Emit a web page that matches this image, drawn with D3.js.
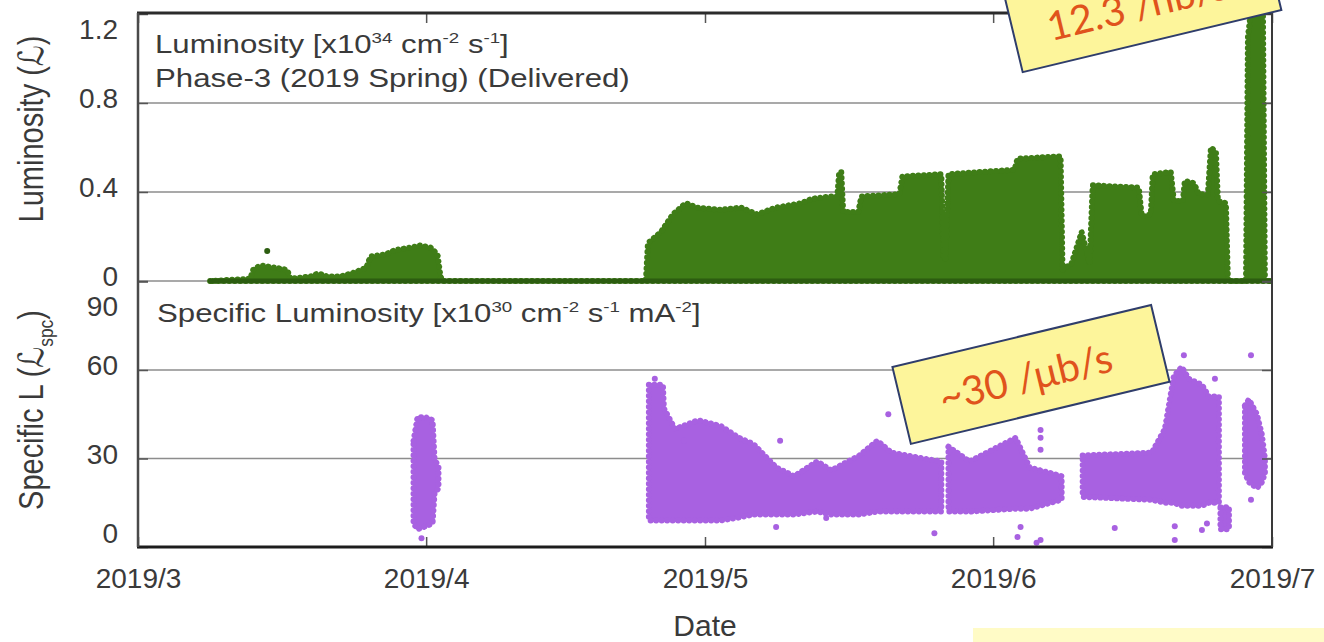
<!DOCTYPE html>
<html>
<head>
<meta charset="utf-8">
<script src="https://cdn.jsdelivr.net/npm/d3@7"></script>
<style>
  html, body { margin: 0; padding: 0; background: #fff; }
  svg { display: block; font-family: "Liberation Sans", Arial, sans-serif; }
</style>
</head>
<body>
<svg id="chart" width="1324" height="642"></svg>
<script>
// ---- data ---------------------------------------------------------------
// Time is given in fractional days counted from 2019-03-01 00:00.

// Delivered luminosity, upper envelope of the logged points [x10^34 cm^-2 s^-1]
const lumDay = [7.76, 12.07, 12.39, 13.15, 14.76, 16.06, 16.38, 18.54, 19.40, 20.37, 21.77, 23.39, 24.57, 25.00, 26.62, 27.70, 29.31, 30.39, 31.47, 32.22, 32.55, 32.76,
  54.64, 54.86, 56.26, 57.55, 58.95, 60.14, 62.72, 64.88, 66.60, 68.65, 71.35, 72.53, 74.58, 75.23, 75.44, 75.66, 75.87, 77.49, 77.81, 81.91,
  82.23, 86.43, 86.65, 86.87, 87.19, 90.74, 94.30, 94.62, 99.26, 99.47, 100.44, 101.52, 102.38, 102.71, 107.67, 107.99, 108.96, 109.17,
  111.11, 111.44, 112.41, 112.62, 113.59, 114.13, 115.10, 115.43, 115.97, 116.18, 117.04, 117.26, 119.20, 119.41, 119.84, 120.49, 121.03, 121.24, 122];
const lumVal = [0, 0.01, 0.05, 0.07, 0.06, 0.05, 0.01, 0.02, 0.035, 0.02, 0.02, 0.04, 0.06, 0.11, 0.12, 0.14, 0.15, 0.16, 0.15, 0.12, 0.02, 0,
  0, 0.17, 0.22, 0.30, 0.35, 0.33, 0.32, 0.33, 0.30, 0.33, 0.35, 0.37, 0.38, 0.38, 0.49, 0.49, 0.31, 0.31, 0.38, 0.39,
  0.47, 0.48, 0.10, 0.10, 0.48, 0.49, 0.50, 0.55, 0.56, 0.05, 0.08, 0.22, 0.08, 0.43, 0.42, 0.29, 0.30, 0.48,
  0.49, 0.36, 0.36, 0.45, 0.44, 0.39, 0.39, 0.60, 0.58, 0.36, 0.35, 0, 0, 1.10, 1.25, 1.27, 1.20, 0, 0];
// isolated luminosity points
const lumDotDay = [13.90];
const lumDotVal = [0.135];

// Specific luminosity band: lower / upper extent of the points [x10^30 cm^-2 s^-1 mA^-2]
// null separates runs
const spcDay = [29.64, 30.07, 30.93, 31.69, 31.90, 32.33, null,
  54.96, 56.47, 56.58, 57.77, 60.25, 62.72, 64.66, 66.17, 68.65, 70.59, 73.07, 74.58, 77.60, 79.54, 81.05, 84.49, 86.43, null,
  87.19, 89.45, 94.41, 95.92, 99.37, null,
  101.63, 109.07, 110.47, 111.44, 112.30, 113.05, 114.46, 115.21, 116.29, null,
  116.45, 117.37, null,
  119.09, 119.52, 120.38, 120.92, 121.24];
const spcLo = [8, 6, 7, 8, 18, 20, null,
  9, 9, 9, 9, 9, 9, 10, 11, 11, 11, 12, 11, 11, 12, 12, 12, 12, null,
  12, 12, 13, 13, 16, null,
  17, 16, 15, 15, 14, 14, 14, 15, 15, null,
  6, 6, null,
  25, 22, 20, 22, 25];
const spcHi = [36, 44, 44, 43, 30, 27, null,
  55, 55, 47, 40, 43, 41, 37, 35, 27, 24, 29, 26, 31, 36, 32, 30, 29, null,
  34, 29, 37, 27, 24, null,
  31, 32, 40, 58, 61, 57, 55, 51, 51, null,
  13.5, 13.5, null,
  48, 50, 45, 38, 30];
// isolated specific-luminosity points
const spcDotDay = [30.50, 58.74, 69.08, 80.72, 68.65, 74.04, 85.68, 94.95, 94.62, 97.10, 97.10, 97.10, 97.10, 96.67, 105.08, 111.54, 111.54, 114.46, 115.00, 115.86, 112.52, 119.74, 119.74, 55.60];
const spcDotVal = [3, 36, 36, 45, 6.8, 9.8, 4.7, 6.8, 3.4, 39.7, 37, 33, 2.4, 1.4, 6.4, 2.4, 7, 5.8, 8, 57, 65, 65, 16, 57];

// axes
const monthTicks = [[2019, 2], [2019, 3], [2019, 4], [2019, 5], [2019, 6]];
const monthLabels = ["2019/3", "2019/4", "2019/5", "2019/6", "2019/7"];
const lumTicks = [0, 0.4, 0.8, 1.2];
const lumTickLabels = ["0", "0.4", "0.8", "1.2"];
const spcTicks = [0, 30, 60, 90];
const spcTickLabels = ["0", "30", "60", "90"];

// rate annotations: [day, value, text]
const lumNote = [108.1, 1.251, "12.3 /nb/s"];
const spcNote = [96.07, 58.5, "~30 /\u03BCb/s"];

// ---- layout -------------------------------------------------------------
const P = { left: 138, right: 1272, top: 13, mid: 281, bottom: 547 };
const textColor = "#3a3a3a";
const green = "#3f7d17", greenDark = "#2c5d10", purple = "#a861e1";

const svg = d3.select("#chart");
const t0 = new Date(2019, 2, 1);
const toDate = d => new Date(t0.getTime() + d * 864e5);
const monthDates = monthTicks.map(([y, m]) => new Date(y, m, 1));

const x = d3.scaleTime().domain([monthDates[0], monthDates[monthDates.length - 1]]).range([P.left, P.right]);
const yL = d3.scaleLinear().domain([0, 1.2]).range([P.mid, P.top + 1]);
const yS = d3.scaleLinear().domain([0, 90]).range([P.bottom, P.mid + 0.5]);

const defs = svg.append("defs");
defs.append("clipPath").attr("id", "clipTop").append("rect")
  .attr("x", P.left).attr("y", P.top).attr("width", P.right - P.left).attr("height", P.mid - P.top + 3);
defs.append("clipPath").attr("id", "clipBottom").append("rect")
  .attr("x", P.left).attr("y", P.mid + 3).attr("width", P.right - P.left).attr("height", P.bottom - P.mid - 3);

// ---- grid ---------------------------------------------------------------
const grid = svg.append("g").attr("stroke", "#8d8d8d").attr("stroke-width", 1.6);
grid.selectAll("line.gl").data(lumTicks.filter(v => v > 0 && v < 1.2)).join("line")
  .attr("x1", P.left).attr("x2", P.right).attr("y1", d => yL(d)).attr("y2", d => yL(d));
grid.selectAll("line.gs").data(spcTicks.filter(v => v > 0 && v < 90)).join("line")
  .attr("x1", P.left).attr("x2", P.right).attr("y1", d => yS(d)).attr("y2", d => yS(d));
grid.append("line").attr("x1", P.left).attr("x2", P.right).attr("y1", P.mid).attr("y2", P.mid);

// dense point clouds: filled envelope plus a chain of dots along its edge
function cloud(g, data, gen, color, dot) {
  g.append("path").datum(data).attr("fill", color).attr("stroke", "none").attr("d", gen);
  g.append("path").datum(data).attr("fill", "none").attr("stroke", color)
    .attr("stroke-width", dot).attr("stroke-linecap", "round").attr("stroke-linejoin", "round")
    .attr("stroke-dasharray", `0.1 ${dot * 0.9}`).attr("d", gen);
}

// ---- luminosity ---------------------------------------------------------
const lumData = lumDay.map((d, i) => ({ t: toDate(d), v: lumVal[i] }));
const gTop = svg.append("g").attr("clip-path", "url(#clipTop)");
cloud(gTop, lumData, d3.area().x(d => x(d.t)).y0(yL(0)).y1(d => yL(d.v)), green, 6);
gTop.append("line")
  .attr("x1", x(toDate(d3.min(lumDay)))).attr("x2", x(toDate(d3.max(lumDay))))
  .attr("y1", yL(0)).attr("y2", yL(0))
  .attr("stroke", greenDark).attr("stroke-width", 5).attr("stroke-linecap", "round");
gTop.selectAll("circle").data(lumDotDay.map((d, i) => ({ t: toDate(d), v: lumDotVal[i] }))).join("circle")
  .attr("cx", d => x(d.t)).attr("cy", d => yL(d.v)).attr("r", 3).attr("fill", greenDark);

// ---- specific luminosity ------------------------------------------------
const spcData = spcDay.map((d, i) => ({ t: d == null ? null : toDate(d), lo: spcLo[i], hi: spcHi[i] }));
const gBot = svg.append("g").attr("clip-path", "url(#clipBottom)");
cloud(gBot, spcData,
  d3.area().defined(d => d.t != null).x(d => x(d.t)).y0(d => yS(d.lo)).y1(d => yS(d.hi)),
  purple, 6);
gBot.selectAll("circle").data(spcDotDay.map((d, i) => ({ t: toDate(d), v: spcDotVal[i] }))).join("circle")
  .attr("cx", d => x(d.t)).attr("cy", d => yS(d.v)).attr("r", 3).attr("fill", purple);

// ---- axes ---------------------------------------------------------------
function styleAxis(g) {
  g.select(".domain").remove();
  g.selectAll(".tick line").attr("stroke", "#555").attr("stroke-width", 1.5);
  g.selectAll(".tick text").attr("fill", textColor).attr("font-size", 28)
    .attr("font-family", "'Liberation Sans', Arial, sans-serif");
}
function placeLabels(g, scale, lo, hi) {
  g.selectAll(".tick text").attr("y", v => {
    const c = Math.min(hi, Math.max(lo, scale(v) - 4));
    return c - scale(v);
  });
}

const axL = svg.append("g").attr("transform", `translate(${P.left},0)`)
  .call(d3.axisLeft(yL).tickValues(lumTicks).tickFormat((d, i) => lumTickLabels[i]).tickSize(-10).tickPadding(20));
styleAxis(axL);
placeLabels(axL, yL, P.top + 17, 9999);

const axS = svg.append("g").attr("transform", `translate(${P.left},0)`)
  .call(d3.axisLeft(yS).tickValues(spcTicks).tickFormat((d, i) => spcTickLabels[i]).tickSize(-10).tickPadding(20));
styleAxis(axS);
placeLabels(axS, yS, P.mid + 26, P.bottom - 13);

// right-side inner ticks
const axR = svg.append("g").attr("transform", `translate(${P.right},0)`);
axR.call(d3.axisRight(yL).tickValues(lumTicks).tickFormat("").tickSize(-10));
axR.select(".domain").remove();
const axR2 = svg.append("g").attr("transform", `translate(${P.right},0)`);
axR2.call(d3.axisRight(yS).tickValues(spcTicks).tickFormat("").tickSize(-10));
axR2.select(".domain").remove();
svg.selectAll(".tick line").attr("stroke", "#555").attr("stroke-width", 1.5);

const axB = svg.append("g").attr("transform", `translate(0,${P.bottom})`)
  .call(d3.axisBottom(x).tickValues(monthDates).tickFormat((d, i) => monthLabels[i]).tickSize(-10).tickPadding(21));
styleAxis(axB);
const axT = svg.append("g").attr("transform", `translate(0,${P.top})`)
  .call(d3.axisTop(x).tickValues(monthDates).tickFormat("").tickSize(-10));
axT.select(".domain").remove();
axT.selectAll(".tick line").attr("stroke", "#555").attr("stroke-width", 1.5);

// ---- frame --------------------------------------------------------------
const frame = svg.append("g").attr("fill", "none");
frame.append("line").attr("x1", P.left - 1).attr("x2", P.right + 1).attr("y1", P.top).attr("y2", P.top)
  .attr("stroke", "#2b2b2b").attr("stroke-width", 3);
frame.append("line").attr("x1", P.left - 1).attr("x2", P.right + 1).attr("y1", P.bottom).attr("y2", P.bottom)
  .attr("stroke", "#1c1c1c").attr("stroke-width", 3);
frame.append("line").attr("x1", P.left).attr("x2", P.left).attr("y1", P.top).attr("y2", P.bottom)
  .attr("stroke", "#4a4a4a").attr("stroke-width", 2.5);
frame.append("line").attr("x1", P.right).attr("x2", P.right).attr("y1", P.top).attr("y2", P.bottom)
  .attr("stroke", "#3a3a3a").attr("stroke-width", 2);

// ---- titles -------------------------------------------------------------
function richText(parent, parts, size) {
  const t = parent.append("text").attr("font-size", size).attr("fill", textColor);
  let shifted = 0;
  parts.forEach(([s, kind]) => {
    const ts = t.append("tspan").text(s);
    let target = 0;
    if (kind === "sup") { ts.attr("font-size", size * 0.6); target = -size * 0.42; }
    if (kind === "sub") { ts.attr("font-size", size * 0.6); target = size * 0.3; }
    if (kind === "it") { ts.attr("font-family", "'DejaVu Sans', sans-serif").attr("font-style", "italic"); }
    if (target !== shifted) { ts.attr("dy", target - shifted); shifted = target; }
  });
  return t;
}

const titleSize = 25;
const titles = svg.append("g");
const t1 = richText(titles.append("g"), [["Luminosity [x10"], ["34", "sup"], [" cm"], ["-2", "sup"], [" s"], ["-1", "sup"], ["]"]], titleSize);
const t2 = richText(titles.append("g"), [["Phase-3 (2019 Spring) (Delivered)"]], titleSize);
const t3 = richText(titles.append("g"), [["Specific Luminosity [x10"], ["30", "sup"], [" cm"], ["-2", "sup"], [" s"], ["-1", "sup"], [" mA"], ["-2", "sup"], ["]"]], titleSize);
const stretch = 475 / t2.node().getComputedTextLength();
t1.attr("transform", `translate(155,53) scale(${stretch},1)`);
t2.attr("transform", `translate(155,87) scale(${stretch},1)`);
t3.attr("transform", `translate(157,322) scale(${stretch},1)`);

// y-axis titles
richText(svg.append("g"), [["Luminosity ("], ["\u2112", "it"], [")"]], 29)
  .attr("text-anchor", "middle")
  .attr("transform", "translate(43,129) scale(1.2,1) rotate(-90)");
richText(svg.append("g"), [["Specific L ("], ["\u2112", "it"], ["spc", "sub"], [")"]], 29)
  .attr("text-anchor", "middle")
  .attr("transform", "translate(43,410) scale(1.2,1) rotate(-90)");

// x-axis title
svg.append("text").text("Date").attr("x", (P.left + P.right) / 2).attr("y", 636)
  .attr("text-anchor", "middle").attr("font-size", 30).attr("fill", textColor);

// ---- rate annotations ---------------------------------------------------
function noteBox(cx, cy, label) {
  const g = svg.append("g").attr("transform", `translate(${cx},${cy}) rotate(-13.5)`);
  g.append("rect").attr("x", -133).attr("y", -39.5).attr("width", 266).attr("height", 79)
    .attr("fill", "#fdf59b").attr("stroke", "#2f3d6b").attr("stroke-width", 2);
  g.append("text").text(label).attr("x", -6).attr("y", 16).attr("text-anchor", "middle")
    .attr("font-family", "Lato, 'Open Sans', sans-serif").attr("font-size", 40).attr("fill", "#e0531c");
}
noteBox(x(toDate(spcNote[0])), yS(spcNote[1]), spcNote[2]);
noteBox(x(toDate(lumNote[0])), yL(lumNote[1]), lumNote[2]);

// strip of the next slide element along the lower edge
svg.append("rect").attr("x", 973).attr("y", 628).attr("width", 351).attr("height", 14).attr("fill", "#fffbc6");
</script>
</body>
</html>
